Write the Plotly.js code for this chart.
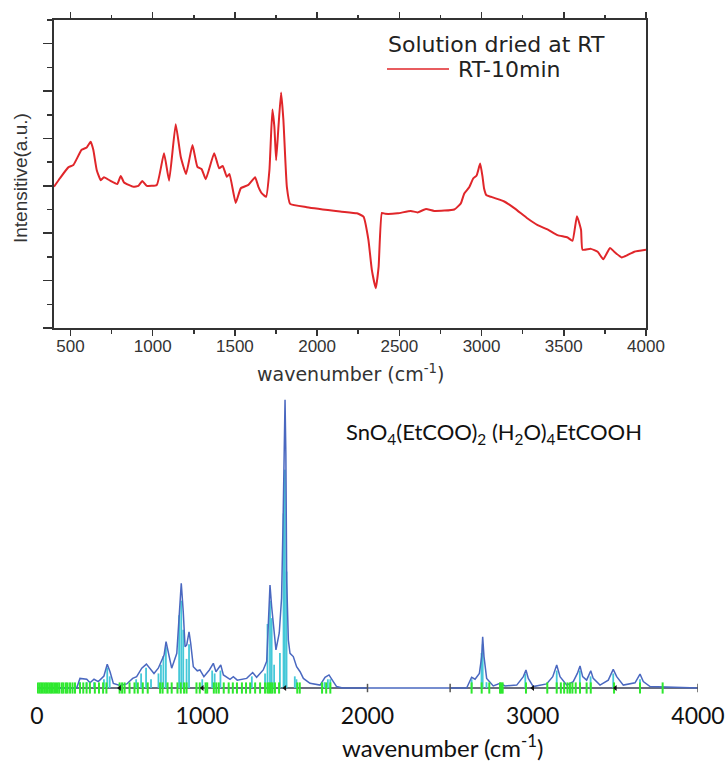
<!DOCTYPE html>
<html>
<head>
<meta charset="utf-8">
<script src="https://cdn.plot.ly/plotly-3.0.1.min.js"></script>
<style>html,body{margin:0;padding:0;background:#fff;}#chart{width:728px;height:761px;}</style>
</head>
<body>
<div id="chart"></div>
<script>
// ---------- Top panel: measured IR spectrum (RT-10min) ----------
var irWavenumber = [400, 436, 487, 518, 568, 599, 623, 639, 660, 684, 704, 741, 785, 806, 826, 883, 913, 937, 964, 1025,
  1069, 1100, 1140, 1171, 1203, 1242, 1272, 1298, 1323, 1374, 1404, 1426, 1451, 1467, 1505, 1536, 1582, 1623, 1643, 1664,
  1690, 1710, 1728, 1740, 1751, 1765, 1781, 1795, 1816, 1836, 1937, 2140, 2242, 2282, 2312, 2333, 2357, 2374, 2394, 2414,
  2489, 2570, 2611, 2662, 2712, 2834, 2874, 2895, 2925, 2950, 2970, 2985, 2992, 3006, 3015, 3030, 3057, 3138, 3199, 3280,
  3341, 3401, 3462, 3523, 3553, 3580, 3605, 3614, 3665, 3706, 3740, 3781, 3807, 3852, 3888, 3929, 4000];
var irIntensity = [2.98, 3.16, 3.39, 3.44, 3.76, 3.81, 3.93, 3.76, 3.33, 3.12, 3.18, 3.11, 3.04, 3.21, 3.07, 2.98, 3.00, 3.10, 3.00, 3.02,
  3.69, 3.11, 4.30, 3.61, 3.25, 3.86, 3.40, 3.35, 3.14, 3.69, 3.37, 3.42, 3.19, 3.25, 2.64, 2.95, 3.02, 3.18, 2.98, 2.84,
  2.77, 3.33, 4.61, 4.25, 3.54, 4.25, 4.97, 4.39, 2.98, 2.62, 2.55, 2.46, 2.42, 2.35, 1.86, 1.22, 0.84, 1.29, 2.43, 2.41,
  2.42, 2.47, 2.44, 2.51, 2.47, 2.50, 2.63, 2.84, 2.97, 3.16, 3.22, 3.40, 3.47, 3.19, 2.95, 2.80, 2.77, 2.67, 2.53, 2.31,
  2.17, 2.08, 1.96, 1.91, 1.84, 2.36, 2.07, 1.65, 1.67, 1.61, 1.45, 1.69, 1.61, 1.49, 1.54, 1.61, 1.65];
var topTicks = [500, 1000, 1500, 2000, 2500, 3000, 3500, 4000];

// ---------- Bottom panel: calculated spectrum SnO4(EtCOO)2(H2O)4EtCOOH ----------
var calcWavenumber = [0, 240, 260, 301, 321, 345, 371, 405, 425, 442, 462, 502, 543, 579, 603, 634, 662, 681, 708, 734,
  749, 769, 781, 795, 815, 846, 861, 873, 885, 896, 906, 920, 930, 946, 970, 986, 1010, 1043, 1067, 1083,
  1112, 1128, 1168, 1188, 1212, 1269, 1305, 1329, 1369, 1390, 1400, 1410, 1420, 1430, 1446, 1466, 1480, 1490, 1495, 1501,
  1506, 1511, 1521, 1531, 1551, 1571, 1592, 1612, 1652, 1713, 1743, 1767, 1793, 1813, 1850,
  2600, 2630, 2651, 2677, 2691, 2697, 2705, 2721, 2761, 2802, 2832, 2903, 2943, 2959, 2973, 3003, 3084, 3121, 3145, 3165,
  3206, 3245, 3270, 3286, 3302, 3326, 3351, 3366, 3407, 3457, 3487, 3508, 3548, 3619, 3649, 3669, 3710, 4000];
var calcIntensity = [0, 0, 3.3, 3.0, 1.8, 3.0, 2.2, 4.1, 8.2, 5.6, 1.6, 0.9, 1.4, 3.3, 3.9, 6.8, 8.2, 6.8, 5.0, 6.8,
  9.0, 11.3, 15.9, 11.9, 6.8, 11.9, 26.2, 36.0, 26.2, 14.2, 14.8, 19.3, 15.4, 7.3, 5.9, 6.2, 3.9, 6.2, 8.5, 5.6,
  7.9, 4.5, 3.0, 3.9, 2.7, 3.3, 5.3, 3.7, 6.2, 9.2, 22.2, 35.4, 27.9, 21.1, 13.1, 18.9, 30.8, 60, 80, 99,
  80, 37, 16.5, 11.9, 10.8, 7.3, 5.6, 3.3, 1.6, 1.0, 3.7, 4.5, 2.2, 0.5, 0,
  0, 3.7, 3.0, 5.0, 10.8, 17.6, 10.8, 3.3, 0.7, 1.6, 0.7, 1.0, 3.9, 6.2, 3.3, 0.5, 1.4, 3.9, 7.9, 3.9,
  1.0, 2.2, 5.0, 7.6, 3.9, 2.7, 5.9, 3.3, 1.0, 2.7, 6.4, 3.9, 1.0, 1.8, 4.8, 2.2, 0.5, 0];
var stickWavenumber = [260, 300, 345, 405, 425, 440, 600, 630, 660, 690, 735, 750, 765, 780, 860, 873, 885, 905, 920,
  1000, 1060, 1075, 1110, 1300, 1380, 1395, 1410, 1420, 1435, 1470, 1492, 1500, 1510, 1560, 1570, 1740, 1760, 1775,
  2630, 2690, 2697, 2720, 2955, 3145, 3285, 3350, 3487, 3649];
var stickIntensity = [2, 2, 2, 3, 7, 4, 3, 5, 7, 3, 5, 8, 11, 14, 25, 30, 20, 10, 15,
  3, 6, 5, 6, 4, 5, 22, 30, 24, 8, 12, 60, 75, 40, 4, 3, 2, 3, 3,
  3, 12, 15, 2, 5, 6, 6, 4, 5, 3];
var modeWavenumber = [5, 15, 25, 35, 45, 55, 65, 75, 85, 95, 105, 115, 125, 135, 150, 160, 175, 185, 200, 215, 230,
  260, 280, 300, 320, 350, 375, 400, 420, 500, 515, 530, 560, 590, 610, 640, 670,
  745, 760, 790, 815, 850, 870, 890, 905, 965, 985, 1020, 1030, 1070, 1085, 1100, 1130, 1160, 1185,
  1210, 1240, 1265, 1290, 1320, 1350, 1380, 1395, 1405, 1415, 1425, 1440, 1465, 1575, 1590, 1725, 1750, 1775,
  2630, 2691, 2737, 2802, 2810, 2818, 2959, 3088, 3145, 3170, 3190, 3210, 3225, 3240, 3260, 3286, 3326, 3351, 3492, 3649, 3786];
var axisMarkWavenumber = [500, 1000, 1500, 3000, 3500];
var axisStubWavenumber = [2000, 2500, 4000];
var bottomTicks = [0, 1000, 2000, 3000, 4000];

var W = 728, H = 761;
function px(x){ return x / W; }
function py(y){ return 1 - y / H; }

var zeros = function(a){ return a.map(function(){ return 0; }); };

// sticks as segments
var sx = [], sy = [];
for (var i = 0; i < stickWavenumber.length; i++) {
  sx.push(stickWavenumber[i], stickWavenumber[i], null);
  sy.push(0, stickIntensity[i], null);
}

var traces = [
  {x: irWavenumber, y: irIntensity, xaxis: 'x', yaxis: 'y', mode: 'lines', name: 'RT-10min',
   line: {color: '#e0262a', width: 2, shape: 'spline', smoothing: 0.4}, showlegend: false, hoverinfo: 'skip'},
  // baseline axis (two segments)
  {x: [0, 2000, null, 2500, 4000], y: [0, 0, null, 0, 0], xaxis: 'x2', yaxis: 'y2', mode: 'lines',
   line: {color: '#3a3f55', width: 1.6}, showlegend: false, hoverinfo: 'skip'},
  {x: sx, y: sy, xaxis: 'x2', yaxis: 'y2', mode: 'lines', line: {color: '#45c8d8', width: 1.8},
   showlegend: false, hoverinfo: 'skip'},
  {x: calcWavenumber, y: calcIntensity, xaxis: 'x2', yaxis: 'y2', mode: 'lines',
   line: {color: '#4a68c0', width: 1.5}, showlegend: false, hoverinfo: 'skip'},
  {x: modeWavenumber, y: zeros(modeWavenumber), xaxis: 'x2', yaxis: 'y2', mode: 'markers',
   marker: {symbol: 'line-ns', size: 8, line: {color: '#2ee82e', width: 2}}, showlegend: false, hoverinfo: 'skip'},
  {x: axisMarkWavenumber, y: zeros(axisMarkWavenumber), xaxis: 'x2', yaxis: 'y2', mode: 'markers',
   marker: {symbol: 'triangle-left', size: 5, color: '#111'}, showlegend: false, hoverinfo: 'skip'},
  {x: axisStubWavenumber, y: zeros(axisStubWavenumber), xaxis: 'x2', yaxis: 'y2', mode: 'markers',
   marker: {symbol: 'line-ns', size: 6, line: {color: '#555', width: 1.5}}, showlegend: false, hoverinfo: 'skip'}
];

var axisFont = {family: 'Liberation Sans, Arial, sans-serif', size: 17, color: '#333'};
var wideFont = 'DejaVu Sans, Verdana, sans-serif';
var calFont = 'Lato, Carlito, Calibri, sans-serif';

var layout = {
  width: W, height: H,
  margin: {l: 0, r: 0, t: 0, b: 0},
  paper_bgcolor: '#fff', plot_bgcolor: '#fff',
  showlegend: false,
  xaxis: {
    domain: [px(54), px(646)], range: [400, 4000], anchor: 'y',
    tickmode: 'array', tickvals: topTicks, ticks: 'outside', ticklen: 6, tickwidth: 1.5, tickcolor: '#333',
    minor: {dtick: 250, tick0: 0, ticks: 'outside', ticklen: 3.5, tickwidth: 1.5, tickcolor: '#333'},
    showline: true, linecolor: '#333', linewidth: 2, mirror: 'ticks', ticklabelstandoff: -4,
    showgrid: false, zeroline: false, tickfont: axisFont
  },
  yaxis: {
    domain: [py(328), py(20)], range: [0, 6.5], anchor: 'x',
    tickmode: 'linear', dtick: 1, tick0: 0, ticks: 'outside', ticklen: 9, tickwidth: 1.5, tickcolor: '#333',
    minor: {dtick: 0.5, tick0: 0, ticks: 'outside', ticklen: 5, tickwidth: 1.5, tickcolor: '#333'},
    showticklabels: false, showline: true, linecolor: '#333', linewidth: 2, mirror: true,
    showgrid: false, zeroline: false
  },
  xaxis2: {
    domain: [px(37), px(698)], range: [0, 4000], anchor: 'y2',
    tickmode: 'array', tickvals: bottomTicks, ticks: '', showline: false, showgrid: false, zeroline: false,
    ticklabelstandoff: -3,
    tickfont: {family: calFont, size: 23, color: '#111'}
  },
  yaxis2: {
    domain: [py(703), py(380)], range: [-5.15, 105.8], anchor: 'x2',
    visible: false, showgrid: false, zeroline: false
  },
  shapes: [
    {type: 'line', xref: 'paper', yref: 'paper', x0: px(387), x1: px(449), y0: py(69), y1: py(69),
     line: {color: '#e0262a', width: 1.5}}
  ],
  annotations: [
    {text: 'Solution dried at RT', xref: 'paper', yref: 'paper', x: px(386), y: py(44), xanchor: 'left', yanchor: 'middle',
     showarrow: false, font: {family: wideFont, size: 22, color: '#222'}},
    {text: 'RT-10min', xref: 'paper', yref: 'paper', x: px(456), y: py(70), xanchor: 'left', yanchor: 'middle',
     showarrow: false, font: {family: wideFont, size: 22, color: '#222'}},
    {text: 'Intensitive(a.u.)', xref: 'paper', yref: 'paper', x: px(20), y: py(178), xanchor: 'center', yanchor: 'middle',
     textangle: -90, showarrow: false, font: {family: 'Liberation Sans, Arial, sans-serif', size: 19, color: '#333'}},
    {text: 'wavenumber (cm<sup>-1</sup>)', xref: 'paper', yref: 'paper', x: px(350), y: py(373), xanchor: 'center', yanchor: 'middle',
     showarrow: false, font: {family: wideFont, size: 19, color: '#333'}},
    {text: 'SnO<sub>4</sub>(EtCOO)<sub>2</sub> (H<sub>2</sub>O)<sub>4</sub>EtCOOH', xref: 'paper', yref: 'paper',
     x: px(344), y: py(433), xanchor: 'left', yanchor: 'middle', showarrow: false,
     font: {family: calFont, size: 22, color: '#111'}},
    {text: 'wavenumber (cm<sup>-1</sup>)', xref: 'paper', yref: 'paper', x: px(443), y: py(746), xanchor: 'center', yanchor: 'middle',
     showarrow: false, font: {family: calFont, size: 24, color: '#111'}}
  ]
};

Plotly.newPlot('chart', traces, layout, {displayModeBar: false, staticPlot: true});
</script>
</body>
</html>
